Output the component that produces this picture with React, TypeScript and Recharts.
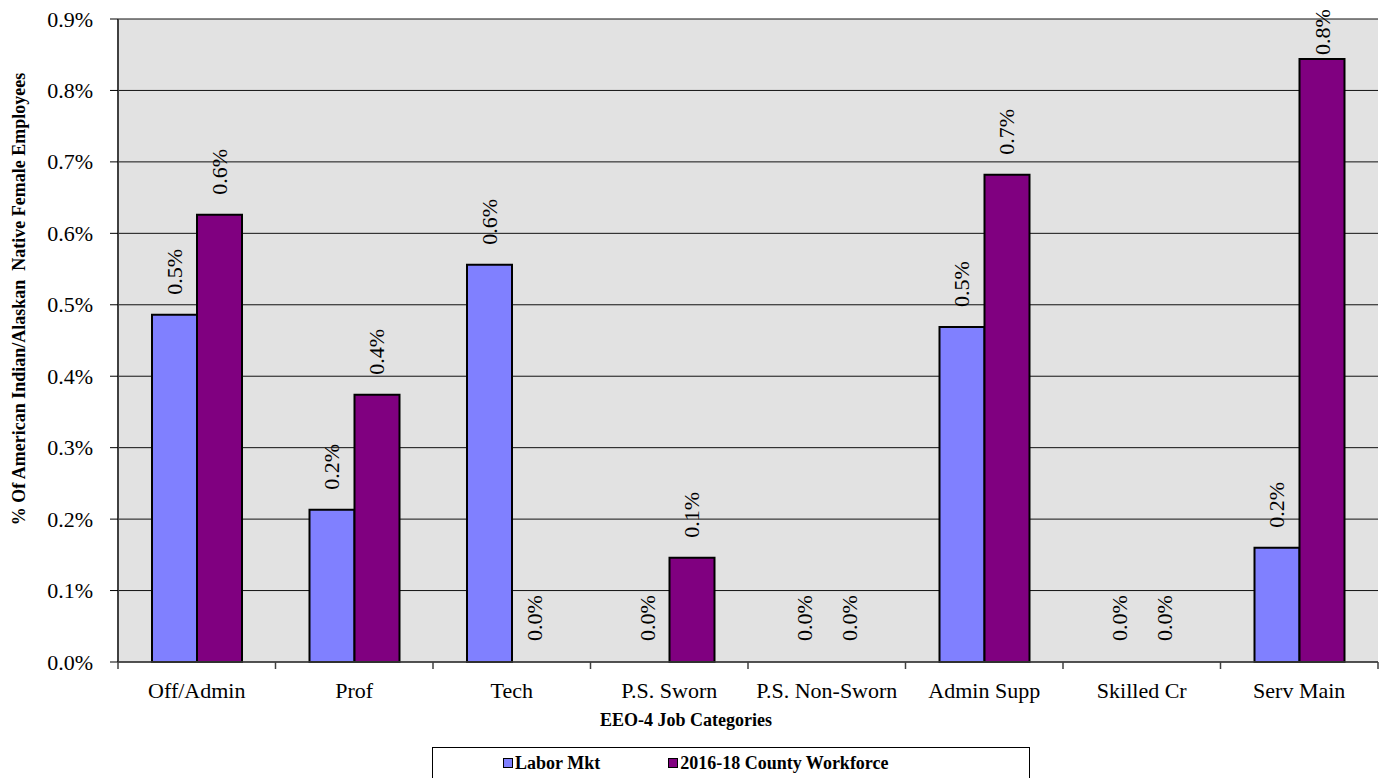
import React from 'react';
import { BarChart, Bar, XAxis, YAxis, CartesianGrid, Legend, LabelList, Cell } from 'recharts';

const categories = ['Off/Admin', 'Prof', 'Tech', 'P.S. Sworn', 'P.S. Non-Sworn', 'Admin Supp', 'Skilled Cr', 'Serv Main'];
const laborMkt = [0.486, 0.213, 0.556, 0, 0, 0.469, 0, 0.16];
const countyWorkforce = [0.626, 0.374, 0, 0.146, 0, 0.682, 0, 0.844];
const yTicks = [0, 0.1, 0.2, 0.3, 0.4, 0.5, 0.6, 0.7, 0.8, 0.9];
const seriesNames = ['Labor Mkt', '2016-18 County Workforce'];

const data = categories.map((c, i) => ({ cat: c, labor: laborMkt[i], county: countyWorkforce[i] }));

const W = 1382;
const H = 778;
const M = { top: 19, right: 4, bottom: 0, left: 0 };
const Y_W = 118;
const X_H = 116;
const PLOT_W = W - M.left - M.right - Y_W;
const BAND = PLOT_W / categories.length;
const FONT = '"Liberation Serif", "Times New Roman", serif';

const pct = (v: number) => v.toFixed(1) + '%';

const XTick = (props: any) => {
  const { x, y, payload, index } = props;
  const last = index === categories.length - 1;
  return (
    <g>
      <line x1={x - BAND / 2} x2={x - BAND / 2} y1={y} y2={y + 7} stroke="#404040" strokeWidth={1.5} />
      {last && <line x1={x + BAND / 2} x2={x + BAND / 2} y1={y} y2={y + 7} stroke="#404040" strokeWidth={1.5} />}
      <text x={x} y={y + 36} textAnchor="middle" fontFamily={FONT} fontSize={22} fill="#000">
        {payload.value}
      </text>
    </g>
  );
};

const YTick = (props: any) => {
  const { x, y, payload } = props;
  return (
    <text x={x} y={y} textAnchor="end" dominantBaseline="central" fontFamily={FONT} fontSize={22} fill="#000">
      {pct(Number(payload.value))}
    </text>
  );
};

const BarLabel = (props: any) => {
  const { x, y, width, value } = props;
  const cx = Number(x) + Number(width) / 2;
  // keep the label inside the picture when the bar reaches the top
  const ty = Math.max(Number(y) - 20, 55);
  return (
    <text
      x={cx}
      y={ty}
      transform={`rotate(-90 ${cx} ${ty})`}
      textAnchor="start"
      dominantBaseline="central"
      fontFamily={FONT}
      fontSize={22}
      fill="#000"
    >
      {pct(Number(value))}
    </text>
  );
};

const YTitle = () => {
  const cx = 19;
  const cy = 299;
  return (
    <text
      x={cx}
      y={cy}
      transform={`rotate(-90 ${cx} ${cy})`}
      textAnchor="middle"
      dominantBaseline="central"
      fontFamily={FONT}
      fontSize={18}
      fontWeight="bold"
      fill="#000"
      style={{ whiteSpace: 'pre' }}
    >
      {'% Of American Indian/Alaskan  Native Female Employees'}
    </text>
  );
};

const XTitle = (props: any) => {
  const vb = props.viewBox;
  return (
    <text x={686} y={vb.y + 64} textAnchor="middle" fontFamily={FONT} fontSize={18} fontWeight="bold" fill="#000">
      EEO-4 Job Categories
    </text>
  );
};

const LegendBox = (props: any) => {
  const items = [...(props.payload || [])].sort(
    (a: any, b: any) => seriesNames.indexOf(a.value) - seriesNames.indexOf(b.value)
  );
  return (
    <div
      style={{
        boxSizing: 'border-box',
        width: '100%',
        height: '100%',
        border: '1px solid #000',
        background: '#fff',
        display: 'flex',
        alignItems: 'center',
        fontFamily: FONT,
        fontSize: 18,
        fontWeight: 'bold',
        color: '#000',
      }}
    >
      {items.map((it: any, i: number) => (
        <div key={i} style={{ display: 'flex', alignItems: 'center', marginLeft: i === 0 ? 70 : 68 }}>
          <span
            style={{
              display: 'inline-block',
              width: 8,
              height: 8,
              background: it.color,
              border: '1px solid #000',
              marginRight: 2,
            }}
          />
          <span>{it.value}</span>
        </div>
      ))}
    </div>
  );
};

export default function App() {
  return (
    <div style={{ position: 'absolute', left: 0, top: 0, width: W, height: H, background: '#fff' }}>
      <BarChart width={W} height={H} data={data} margin={M} barGap={0} barSize={45}>
        <CartesianGrid vertical={false} fill="#E2E2E2" stroke="#111" strokeWidth={1} />
        <XAxis
          dataKey="cat"
          height={X_H}
          axisLine={{ stroke: '#404040', strokeWidth: 1.5 }}
          tickLine={false}
          tickSize={0}
          tickMargin={0}
          interval={0}
          tick={<XTick />}
          label={<XTitle />}
        />
        <YAxis
          width={Y_W}
          domain={[0, 0.9]}
          ticks={yTicks}
          axisLine={{ stroke: '#404040', strokeWidth: 2 }}
          tickLine={{ stroke: '#000' }}
          tickSize={8}
          tickMargin={17}
          tick={<YTick />}
          label={<YTitle />}
        />
        <YAxis
          yAxisId="r"
          orientation="right"
          width={0}
          domain={[0, 0.9]}
          tick={false}
          tickLine={false}
          axisLine={{ stroke: '#888', strokeWidth: 2 }}
        />
        <Legend
          layout="horizontal"
          verticalAlign="middle"
          align="center"
          wrapperStyle={{ left: 432, top: 747, width: 598, height: 32 }}
          content={<LegendBox />}
        />
        <Bar
          dataKey="labor"
          name={seriesNames[0]}
          fill="#8080FF"
          stroke="#000"
          strokeWidth={2}
          minPointSize={1}
          isAnimationActive={false}
        >
          {laborMkt.map((v, i) => (
            <Cell key={i} fill={v > 0 ? '#8080FF' : 'transparent'} stroke={v > 0 ? '#000' : 'none'} />
          ))}
          <LabelList dataKey="labor" content={<BarLabel />} />
        </Bar>
        <Bar
          dataKey="county"
          name={seriesNames[1]}
          fill="#800080"
          stroke="#000"
          strokeWidth={2}
          minPointSize={1}
          isAnimationActive={false}
        >
          {countyWorkforce.map((v, i) => (
            <Cell key={i} fill={v > 0 ? '#800080' : 'transparent'} stroke={v > 0 ? '#000' : 'none'} />
          ))}
          <LabelList dataKey="county" content={<BarLabel />} />
        </Bar>
      </BarChart>
    </div>
  );
}
